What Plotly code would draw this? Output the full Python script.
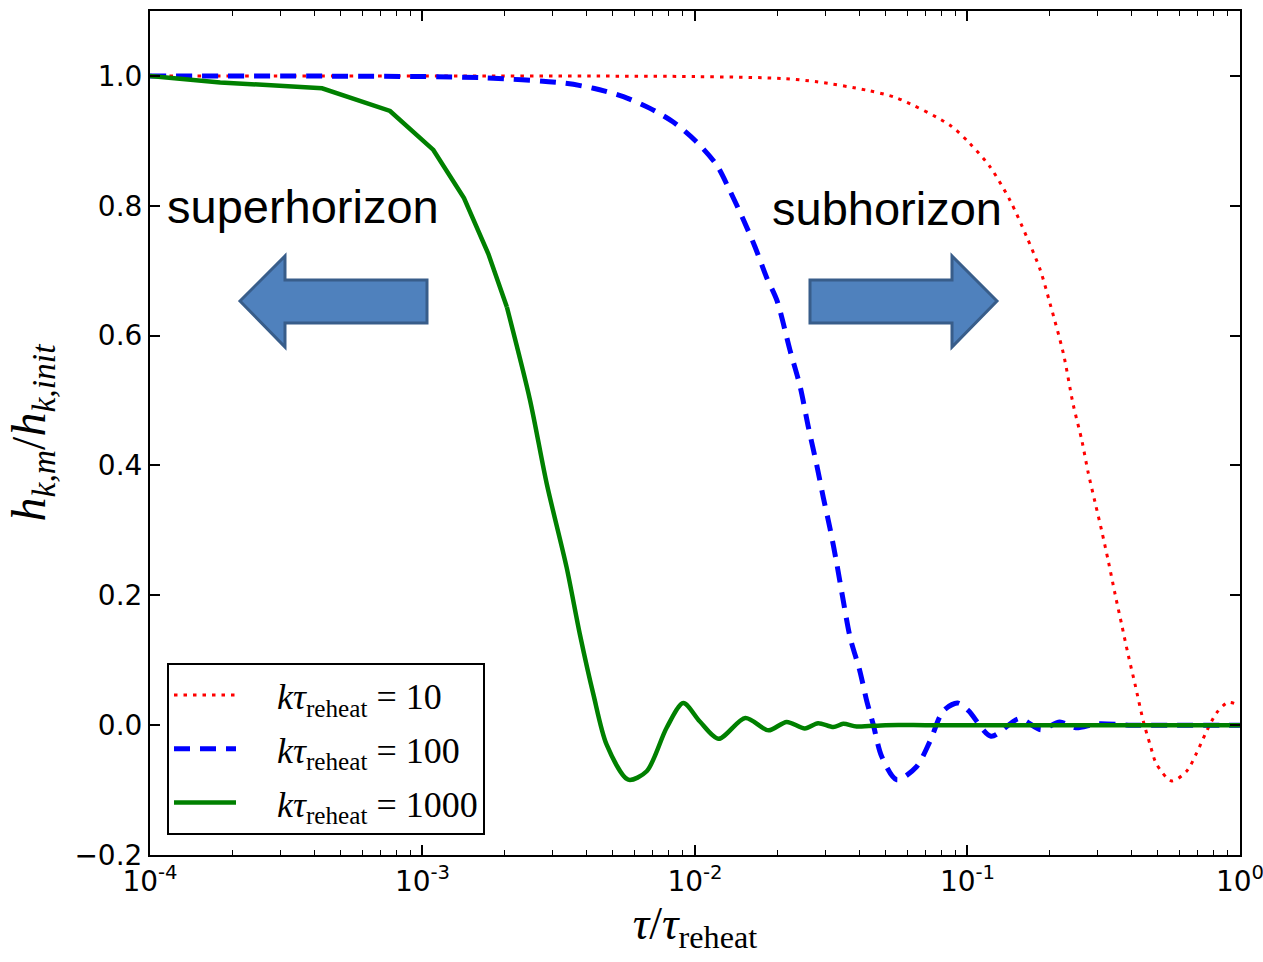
import plotly.graph_objects as go

# ---------------- data ----------------
tau_red = [1.0e-4, 1.0e-3, 1.0e-2, 2.10e-2, 2.80e-2, 4.27e-2, 5.50e-2, 8.63e-2,
           1.02e-1, 1.21e-1, 1.43e-1, 1.65e-1, 1.85e-1, 2.01e-1, 2.25e-1, 2.44e-1,
           2.63e-1, 2.77e-1, 2.94e-1, 3.11e-1, 3.29e-1, 3.48e-1, 3.68e-1, 3.89e-1,
           4.12e-1, 4.42e-1, 4.68e-1, 4.94e-1, 5.61e-1, 6.37e-1, 6.93e-1, 7.55e-1,
           8.21e-1, 9.04e-1, 1.0]
h_red = [1.000, 1.000, 0.999, 0.996, 0.991, 0.978, 0.966, 0.924,
         0.896, 0.860, 0.809, 0.752, 0.701, 0.649, 0.572, 0.495,
         0.438, 0.390, 0.343, 0.299, 0.252, 0.202, 0.155, 0.108,
         0.063, 0.006, -0.030, -0.060, -0.086, -0.071, -0.043, -0.009,
         0.019, 0.035, 0.030]

tau_blue = [1.0e-4, 1.0e-3, 1.69e-3, 3.29e-3, 4.24e-3, 5.46e-3, 6.84e-3, 8.32e-3,
            1.01e-2, 1.20e-2, 1.34e-2, 1.50e-2, 1.66e-2, 1.83e-2, 2.00e-2, 2.23e-2,
            2.43e-2, 2.61e-2, 2.80e-2, 2.96e-2, 3.13e-2, 3.31e-2, 3.50e-2, 3.71e-2,
            4.03e-2, 4.27e-2, 4.51e-2, 4.84e-2, 5.50e-2, 6.50e-2, 7.28e-2, 8.15e-2,
            9.20e-2, 1.01e-1, 1.22e-1, 1.55e-1, 1.86e-1, 2.18e-1, 2.50e-1, 3.0e-1,
            4.0e-1, 1.0]
h_blue = [1.000, 0.999, 0.997, 0.989, 0.981, 0.968, 0.950, 0.929,
          0.899, 0.863, 0.824, 0.780, 0.737, 0.690, 0.654, 0.578,
          0.522, 0.458, 0.400, 0.350, 0.303, 0.250, 0.192, 0.135,
          0.083, 0.037, 0.001, -0.048, -0.084, -0.064, -0.025, 0.022,
          0.034, 0.022, -0.017, 0.010, -0.007, 0.005, -0.004, 0.002,
          0.000, 0.000]

tau_green_early = [1.0e-4, 1.81e-4, 4.28e-4, 7.60e-4, 1.096e-3, 1.42e-3, 1.744e-3, 2.04e-3]
h_green_early = [1.000, 0.990, 0.981, 0.946, 0.886, 0.812, 0.726, 0.644]

tau_green_late = [2.04e-3, 2.48e-3, 2.86e-3, 3.38e-3, 3.78e-3, 4.24e-3, 4.74e-3, 5.69e-3,
                  6.65e-3, 7.87e-3, 9.06e-3, 1.04e-2, 1.22e-2, 1.53e-2, 1.86e-2, 2.17e-2,
                  2.53e-2, 2.83e-2, 3.22e-2, 3.50e-2, 3.92e-2, 5.0e-2, 7.0e-2, 1.0e-1, 1.0]
h_green_late = [0.644, 0.501, 0.371, 0.243, 0.140, 0.047, -0.030, -0.084,
                -0.071, -0.004, 0.034, 0.006, -0.021, 0.011, -0.008, 0.005,
                -0.005, 0.003, -0.003, 0.002, -0.002, 0.000, 0.000, 0.000, 0.000]

legend_names = ["&nbsp;&nbsp;&nbsp;&nbsp;<i>kτ</i><sub>reheat</sub> = 10",
                "&nbsp;&nbsp;&nbsp;&nbsp;<i>kτ</i><sub>reheat</sub> = 100",
                "&nbsp;&nbsp;&nbsp;&nbsp;<i>kτ</i><sub>reheat</sub> = 1000"]

x_tick_vals = [1e-4, 1e-3, 1e-2, 1e-1, 1e0]
x_tick_text = ["10<sup>-4</sup>", "10<sup>-3</sup>", "10<sup>-2</sup>", "10<sup>-1</sup>", "10<sup>0</sup>"]
y_tick_vals = [-0.2, 0.0, 0.2, 0.4, 0.6, 0.8, 1.0]
y_tick_text = ["\u22120.2", "0.0", "0.2", "0.4", "0.6", "0.8", "1.0"]

# ---------------- figure ----------------
W, H = 1263, 962
ML, MR, MT, MB = 150, 23, 11, 107
PW, PH = W - ML - MR, H - MT - MB


def px2paper(px, py):
    return (px - ML) / PW, (H - MB - py) / PH


fig = go.Figure()
fig.add_trace(go.Scatter(x=tau_red, y=h_red, mode="lines", name=legend_names[0],
                         legendgroup="r",
                         line=dict(color="#ff0000", width=3, dash="3.5px,6px",
                                   shape="spline", smoothing=0.8)))
fig.add_trace(go.Scatter(x=tau_blue, y=h_blue, mode="lines", name=legend_names[1],
                         legendgroup="b",
                         line=dict(color="#0000ff", width=5, dash="16px,10px",
                                   shape="spline", smoothing=0.8)))
fig.add_trace(go.Scatter(x=tau_green_early, y=h_green_early, mode="lines",
                         name=legend_names[2], legendgroup="g", showlegend=False,
                         line=dict(color="#008000", width=4.5)))
fig.add_trace(go.Scatter(x=tau_green_late, y=h_green_late, mode="lines",
                         name=legend_names[2], legendgroup="g",
                         line=dict(color="#008000", width=4.5, shape="spline", smoothing=0.8)))


def arrow_path(points):
    pts = [px2paper(x, y) for x, y in points]
    return "M " + " L ".join(f"{a:.5f},{b:.5f}" for a, b in pts) + " Z"


left_arrow = [(240, 301), (285, 256), (285, 280), (427, 280), (427, 323), (285, 323), (285, 347)]
right_arrow = [(997, 301), (952, 256), (952, 280), (810, 280), (810, 323), (952, 323), (952, 347)]
for pts in (left_arrow, right_arrow):
    fig.add_shape(type="path", xref="paper", yref="paper", path=arrow_path(pts),
                  fillcolor="#4f81bd", line=dict(color="#385d8a", width=3), layer="above")

sx, sy = px2paper(303, 206)
fig.add_annotation(x=sx, y=sy, xref="paper", yref="paper", text="superhorizon",
                   xanchor="center", yanchor="middle",
                   showarrow=False, font=dict(family="Liberation Sans", size=47, color="black"))
bx, by = px2paper(887, 208)
fig.add_annotation(x=bx, y=by, xref="paper", yref="paper", text="subhorizon",
                   xanchor="center", yanchor="middle",
                   showarrow=False, font=dict(family="Liberation Sans", size=47, color="black"))

minor_vals = [m * 10.0 ** e for e in range(-4, 0) for m in range(2, 10)]

axis_common = dict(showgrid=False, zeroline=False, showline=True, linecolor="black",
                   linewidth=2, mirror="allticks", ticks="inside", ticklen=10,
                   tickwidth=1.5, tickcolor="black", ticklabeloverflow="allow",
                   tickfont=dict(family="DejaVu Sans", size=28, color="black"))

fig.update_xaxes(type="log", range=[-4, 0.0001], tickvals=x_tick_vals, ticktext=x_tick_text,
                 minor=dict(ticks="inside", ticklen=5, tickwidth=1, tickcolor="black",
                            tickvals=minor_vals, showgrid=False),
                 title=dict(text="<i>τ</i>/<i>τ</i><sub>reheat</sub>",
                            font=dict(family="Liberation Serif", size=46, color="black"),
                            standoff=6),
                 **axis_common)
fig.update_yaxes(range=[-0.2, 1.1], tickvals=y_tick_vals, ticktext=y_tick_text,
                 title=dict(text="<i>h</i><sub><i>k,m</i></sub>/<i>h</i><sub><i>k,init</i></sub>",
                            font=dict(family="Liberation Serif", size=48, color="black"),
                            standoff=14),
                 **axis_common)

lx, ly = px2paper(167, 835)
fig.update_layout(
    width=W, height=H,
    margin=dict(l=ML, r=MR, t=MT, b=MB, autoexpand=False),
    paper_bgcolor="white", plot_bgcolor="white",
    legend=dict(x=lx, y=ly, xanchor="left", yanchor="bottom",
                bordercolor="black", borderwidth=2, bgcolor="white",
                font=dict(family="Liberation Serif", size=36, color="black"),
                tracegroupgap=4, itemwidth=62, traceorder="grouped"),
)

fig.write_html("out.html", config={"displayModeBar": False},
               post_script="document.body.style.margin='0px';")
